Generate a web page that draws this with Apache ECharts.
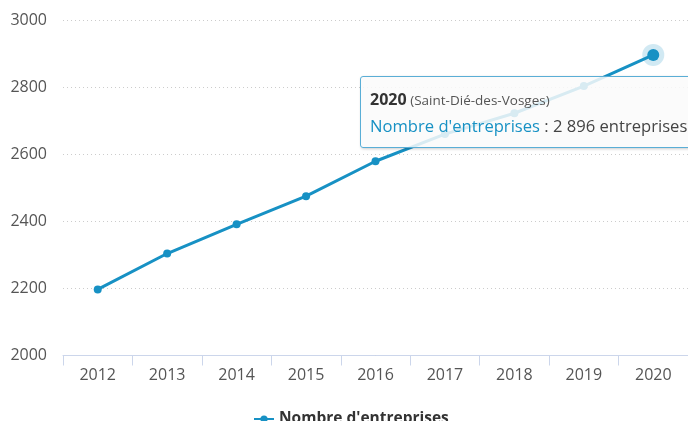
<!DOCTYPE html>
<html>
<head>
<meta charset="utf-8">
<script src="https://cdn.jsdelivr.net/npm/echarts@6/dist/echarts.min.js"></script>
<style>
  html, body { margin: 0; padding: 0; overflow: hidden; background: #fff; }
  #chart { width: 688px; height: 421px; }
</style>
</head>
<body>
<div id="chart"></div>
<script>
  // données
  var annees = ['2012', '2013', '2014', '2015', '2016', '2017', '2018', '2019', '2020'];
  var entreprises = [2197, 2304, 2391, 2475, 2579, 2660, 2722, 2803, 2896];
  var yTicks = [2000, 2200, 2400, 2600, 2800, 3000];
  var serieNom = "Nombre d'entreprises";
  var commune = 'Saint-Dié-des-Vosges';
  var pointActif = 8;

  var bleu = '#1791c4';
  var police = '"Open Sans", "DejaVu Sans", sans-serif';

  function fmt(n) {
    return String(n).replace(/\B(?=(\d{3})+(?!\d))/g, ' ');
  }

  var chart = echarts.init(document.getElementById('chart'));

  chart.setOption({
    animation: false,
    textStyle: { fontFamily: police },
    grid: { left: 63, top: 20, width: 629, bottom: 65.5 },
    tooltip: {
      trigger: 'item',
      alwaysShowContent: true,
      transitionDuration: 0,
      position: [360, 76],
      confine: false,
      backgroundColor: 'rgba(250,250,250,0.85)',
      borderColor: '#5aaed6',
      borderWidth: 1,
      padding: [9, 10, 7, 9],
      extraCssText: 'border-radius:3px;box-shadow:1px 1px 3px rgba(0,0,0,0.2);',
      formatter: function (p) {
        return '<div style="font-family:' + police.replace(/"/g, "'") + ';line-height:26px;white-space:nowrap;">' +
          '<span style="font-size:16px;font-weight:bold;color:#333;">' + annees[p.dataIndex] + '</span> ' +
          '<span style="font-size:13.5px;color:#555;">(' + commune + ')</span><br/>' +
          '<span style="font-size:16.6px;color:' + bleu + ';">' + serieNom + '</span>' +
          '<span style="font-size:16.6px;color:#444;"> : ' + fmt(p.value) + ' entreprises</span></div>';
      }
    },
    legend: {
      data: [serieNom],
      top: 406,
      left: 248,
      itemWidth: 20,
      itemHeight: 9,
      textStyle: { fontSize: 15.5, fontWeight: 'bold', color: '#333', fontFamily: police }
    },
    xAxis: {
      type: 'category',
      data: annees,
      boundaryGap: true,
      axisLine: { lineStyle: { color: '#ccd6eb', width: 1 } },
      axisTick: { show: true, length: 10, lineStyle: { color: '#ccd6eb' } },
      axisLabel: { color: '#555', fontSize: 16, margin: 12, fontFamily: police },
      splitLine: { show: false }
    },
    yAxis: {
      type: 'value',
      min: yTicks[0],
      max: yTicks[yTicks.length - 1],
      interval: 200,
      axisLine: { show: false },
      axisTick: { show: false },
      axisLabel: {
        color: '#555', fontSize: 16, margin: 16, fontFamily: police,
        formatter: function (v) { return String(v); }
      },
      splitLine: { lineStyle: { color: '#cccccc', type: [1, 3], width: 1 } }
    },
    series: [{
      name: serieNom,
      type: 'line',
      z: 3,
      color: bleu,
      symbol: 'circle',
      symbolSize: 8,
      lineStyle: { width: 3, color: bleu },
      itemStyle: { color: bleu },
      emphasis: { disabled: true },
      data: entreprises.map(function (v, i) {
        return i === pointActif ? { value: v, symbolSize: 12 } : v;
      })
    }, {
      name: 'halo',
      type: 'scatter',
      silent: true,
      z: 1,
      symbolSize: 22,
      itemStyle: { color: 'rgba(23,145,196,0.25)' },
      data: entreprises.map(function (v, i) { return i === pointActif ? v : '-'; }),
      tooltip: { show: false }
    }]
  });

  chart.dispatchAction({ type: 'showTip', seriesIndex: 0, dataIndex: pointActif });
</script>
</body>
</html>
